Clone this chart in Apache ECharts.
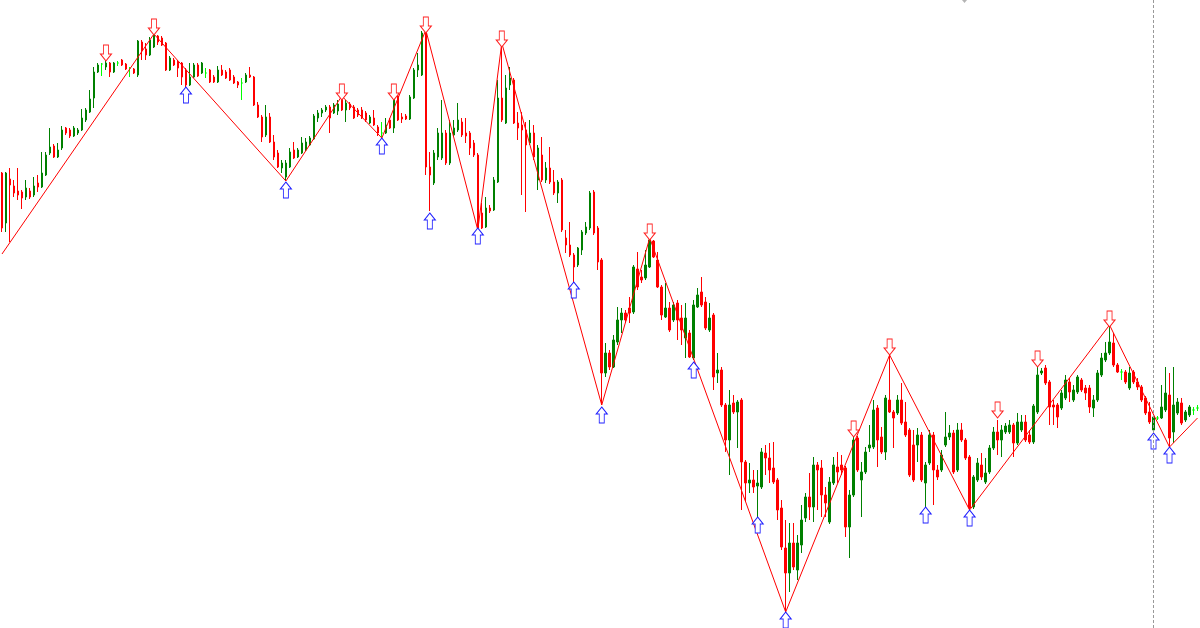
<!DOCTYPE html>
<html>
<head>
<meta charset="utf-8">
<script src="https://cdn.jsdelivr.net/npm/echarts/dist/echarts.min.js"></script>
<style>html,body{margin:0;padding:0;background:#fff}#chart{width:1200px;height:628px}</style>
</head>
<body>
<div id="chart"></div>
<script>
// OHLC values (price units)
const open = [
455,405,449,442,437,436,431,437,433,445, 441,453,475,482,471,480,500,498,492,495,
498,508,516,530,556,564,561,565,556,565, 568,564,560,559,553,586,579,573,581,592,
590,585,558,568,566,565,558,543,551,563, 555,555,558,551,546,558,556,558,551,546,
545,546,553,551,523,511,493,511,486,475, 460,451,461,478,471,475,478,483,489,510,
515,518,521,515,517,531,518,524,521,518, 518,515,505,510,501,495,495,508,500,532,
511,512,509,530,558,553,596,461,445,471, 470,495,465,493,498,506,495,495,485,473,
415,401,420,418,446,530,505,543,548,505, 503,498,485,495,448,473,448,460,446,435,
448,390,383,373,363,378,395,400,436,400, 368,255,275,261,286,308,315,320,316,359,
351,350,361,387,368,341,311,320,308,325, 310,290,295,270,321,336,326,298,313,255,
258,223,188,225,216,228,166,145,148,142, 141,175,170,160,148,120,80,55,85,58,
83,110,131,121,163,160,133,106,145,161, 163,160,101,133,190,148,156,180,181,220,
191,176,228,216,215,228,206,198,183,183, 193,145,165,193,158,158,183,191,195,158,
198,188,171,121,148,163,146,156,180,196, 188,196,196,203,185,198,206,193,186,216,
255,260,246,223,223,220,230,246,228,236, 248,240,240,220,228,253,268,275,285,263,
256,256,240,256,246,241,230,216,198,210, 210,218,233,196,215,225,208,213,218,220
];
const close = [
400,455,443,435,433,430,440,431,442,441, 455,473,481,471,478,498,495,492,500,498,
510,518,529,556,563,564,565,556,565,565, 563,559,560,555,587,578,573,588,593,586,
583,558,570,563,560,551,543,551,563,552, 565,555,546,546,558,553,550,548,545,543,
545,553,551,523,511,491,511,486,471,461, 465,465,476,470,478,485,486,490,512,515,
518,521,510,523,524,518,525,520,510,513, 510,508,511,503,495,495,503,500,532,508,
509,509,531,558,563,595,461,453,475,495, 495,465,495,500,508,493,492,480,473,400,
400,420,417,448,530,508,540,550,505,500, 498,483,495,471,480,448,460,446,435,446,
398,383,373,361,380,396,401,435,395,366, 255,275,261,288,308,315,308,315,361,341,
348,363,388,371,341,313,320,298,323,308, 298,310,271,323,333,323,300,310,251,258,
223,188,223,216,226,166,145,148,141,145, 176,170,158,146,118,81,55,85,61,85,
108,131,121,163,158,133,125,146,163,156, 158,101,133,188,158,156,176,183,218,188,
176,230,216,210,228,205,193,153,148,193, 148,163,193,158,151,173,191,195,156,198,
188,170,120,151,165,151,155,180,196,188, 198,202,203,185,206,206,188,186,222,253,
257,245,221,221,211,235,248,236,238,251, 238,235,221,228,255,270,275,286,263,256,
256,246,255,246,241,228,215,206,211,210, 221,235,190,223,226,205,216,221,218,220
];
const low = [
396,396,386,431,428,419,428,429,431,436, 440,452,473,470,470,478,493,490,491,493,
497,506,515,520,555,552,558,551,555,562, 562,558,551,554,551,568,568,572,580,583,
582,557,557,562,551,543,541,542,550,551, 554,550,545,545,545,552,549,547,544,540,
528,545,550,522,510,486,491,485,468,460, 455,447,460,469,470,474,477,482,488,506,
511,516,495,514,513,517,506,518,509,511, 509,506,504,502,492,490,494,499,495,507,
505,508,508,529,551,552,453,417,443,468, 468,463,463,491,496,491,485,473,471,398,
399,400,415,417,445,506,504,538,504,488, 433,416,483,468,438,446,445,444,433,425,
396,375,371,345,361,373,393,398,393,358, 223,251,258,260,283,295,305,305,314,338,
345,348,360,370,340,308,310,296,306,288, 283,270,270,268,320,321,298,296,238,245,
221,176,153,214,180,118,126,135,135,110, 139,153,145,144,108,78,16,36,58,48,
75,106,108,106,118,111,111,104,143,145, 153,91,70,131,156,111,154,176,179,161,
174,168,215,180,213,203,191,151,146,166, 146,121,163,123,148,156,181,188,154,156,
186,168,118,119,146,148,144,154,178,173, 171,194,194,171,183,196,186,184,184,214,
253,243,203,203,200,218,228,226,226,234, 236,228,215,211,226,251,266,273,261,255,
248,244,238,244,238,226,213,204,195,208, 209,216,181,185,213,203,206,211,213,217
];
const high = [
456,456,460,448,460,438,448,440,451,453, 476,476,500,484,485,502,501,500,502,500,
519,520,538,561,565,565,571,566,566,567, 569,565,561,560,588,588,585,591,594,593,
592,586,572,570,568,566,560,565,565,565, 566,560,559,553,562,563,558,560,553,547,
550,555,561,552,526,513,523,515,493,478, 468,468,480,486,480,491,490,492,514,518,
520,523,523,525,528,532,528,526,523,520, 521,517,513,518,503,506,510,510,533,533,
515,514,533,560,575,597,598,476,478,500, 528,498,508,508,525,510,510,497,488,475,
425,431,423,451,548,585,553,561,550,516, 516,506,508,503,483,491,466,481,458,448,
450,398,406,375,381,398,406,437,438,402, 370,285,278,293,321,320,318,331,363,376,
358,378,390,388,376,343,345,326,326,328, 323,325,298,328,340,351,331,325,315,275,
261,225,238,233,228,230,168,165,158,158, 180,183,185,186,150,128,108,105,105,93,
123,135,155,171,166,168,141,151,171,176, 173,162,138,195,192,166,181,203,228,223,
201,233,273,218,233,245,226,200,198,200, 196,166,198,196,163,178,216,203,198,205,
205,190,173,153,170,175,170,183,201,208, 203,205,208,205,215,213,213,198,224,265,
260,263,248,228,225,238,253,250,243,253, 250,243,243,233,258,275,286,303,295,265,
259,258,261,258,250,243,232,226,213,212, 243,261,255,261,230,230,218,223,221,223
];
const categories = open.map((_, i) => String(i));

// ZigZag pivots (bar index, price)
const zigIdx   = [0, 38, 71, 85, 95, 106, 119, 125, 150, 162, 196, 222, 242, 277, 292, 299];
const zigPrice = [374, 594, 447, 532, 490, 598, 398, 585, 223, 390, 16, 273, 118, 303, 181, 210];

// Fractal arrows (bar index, tip price)
const upFractalIdx   = [26, 38, 85, 98, 106, 125, 162, 213, 222, 249, 259, 277];
const upFractalPrice = [567, 593, 528, 528, 595, 581, 388, 191, 273, 210, 261, 301];
const dnFractalIdx   = [46, 71, 95, 107, 119, 143, 150, 173, 189, 196, 231, 242, 288, 292];
const dnFractalPrice = [541, 446, 490, 415, 400, 346, 221, 266, 111, 16, 121, 118, 195, 181];

const separatorIdx = 288;

const ohlc = open.map((o, i) => [o, close[i], low[i], high[i]]);
const zig = zigIdx.map((i, k) => [i, zigPrice[k]]);
const peaks = upFractalIdx.map((i, k) => [i, upFractalPrice[k]]);
const troughs = dnFractalIdx.map((i, k) => [i, dnFractalPrice[k]]);

const downArrow = 'path://M3,0L8,0L8,9L11,9L5.5,16L0,9L3,9Z';
const upArrow = 'path://M5.5,0L11,7L8,7L8,16L3,16L3,7L0,7Z';

const chart = echarts.init(document.getElementById('chart'), null, {renderer: 'canvas'});
chart.setOption({
  animation: false,
  backgroundColor: '#ffffff',
  grid: {left: -0.5, right: 0.5, top: 0, bottom: 0},
  xAxis: {type: 'category', data: categories, boundaryGap: true, show: false},
  yAxis: {type: 'value', min: 0, max: 628, show: false},
  graphic: [{
    type: 'polygon', silent: true,
    shape: {points: [[962, 0], [967, 0], [964.5, 3]]},
    style: {fill: '#b4b4b4'}
  }],
  series: [
    {
      type: 'candlestick',
      data: ohlc,
      barWidth: 2,
      itemStyle: {
        color: '#008000', color0: '#ff0000',
        borderColor: '#008000', borderColor0: '#ff0000',
        borderColorDoji: '#00ff00', borderWidth: 1
      },
      markLine: {
        silent: true, symbol: 'none', animation: false,
        label: {show: false},
        lineStyle: {color: '#999999', type: [3, 2], width: 1},
        data: [{xAxis: separatorIdx}]
      },
      z: 2
    },
    {
      type: 'line',
      data: zig,
      symbol: 'none',
      lineStyle: {color: '#ff0000', width: 1},
      z: 3
    },
    {
      type: 'scatter',
      data: peaks,
      symbol: downArrow,
      symbolSize: [11, 16],
      symbolOffset: [0, -8],
      itemStyle: {color: '#ffffff', borderColor: '#ff2020', borderWidth: 1, opacity: 1},
      z: 4
    },
    {
      type: 'scatter',
      data: troughs,
      symbol: upArrow,
      symbolSize: [11, 16],
      symbolOffset: [0, 8],
      itemStyle: {color: '#ffffff', borderColor: '#2020ff', borderWidth: 1, opacity: 1},
      z: 4
    }
  ]
});
</script>
</body>
</html>
